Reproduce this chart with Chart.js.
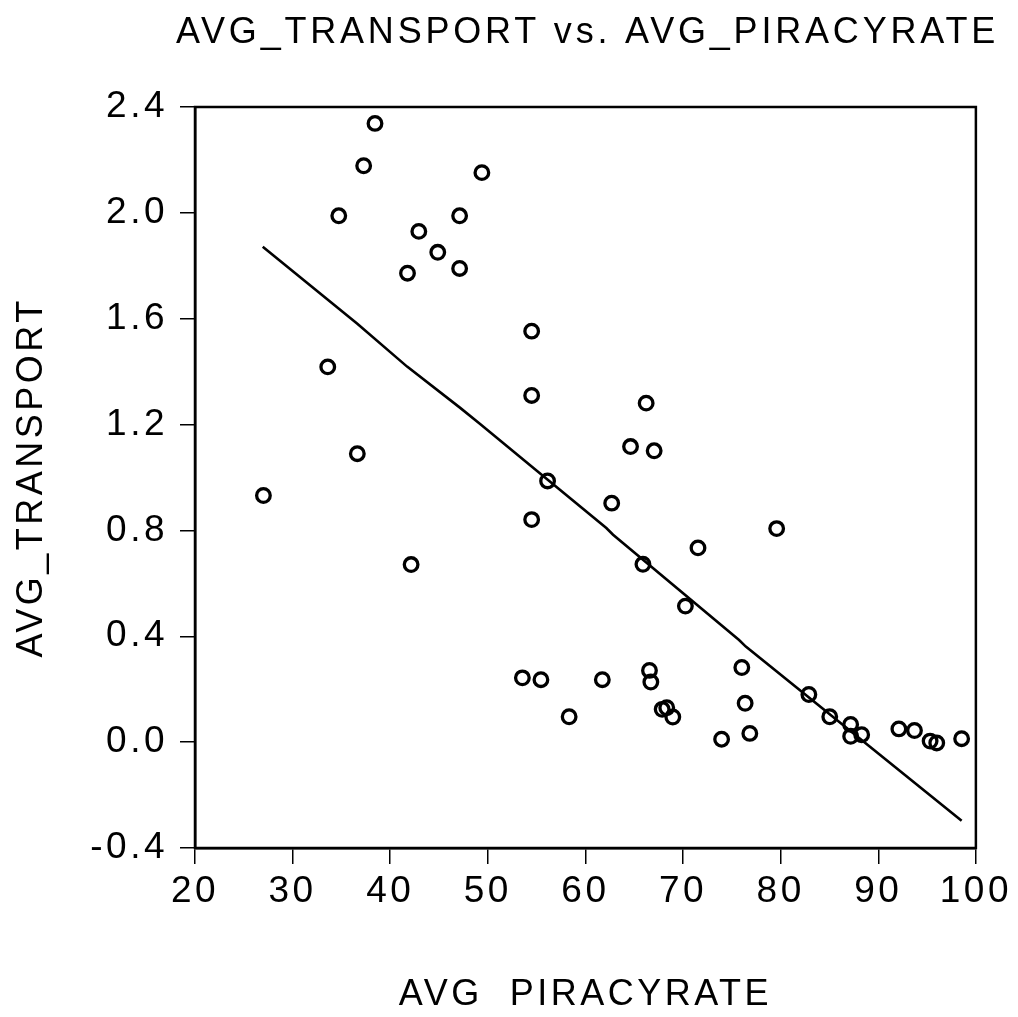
<!DOCTYPE html>
<html>
<head>
<meta charset="utf-8">
<script src="https://cdn.jsdelivr.net/npm/chart.js@4/dist/chart.umd.min.js"></script>
<style>
html,body{margin:0;padding:0;background:#fff;}
#wrap{width:1018px;height:1017px;position:relative;}
canvas{display:block;}
</style>
</head>
<body>
<div id="wrap"><canvas id="c" width="1018" height="1017"></canvas></div>
<script>
// ---- data ----
const piracyRate = [
  38.44, 37.28, 49.39, 34.73, 47.11, 42.93, 44.87, 47.11, 41.77, 54.49,
  33.60, 54.49, 36.63, 27.01, 42.14,
  66.22, 64.62, 67.04, 56.12, 62.69, 54.49, 79.59, 71.53, 65.89, 70.24,
  76.02, 66.56, 66.70, 53.54, 55.44, 61.73, 82.89, 76.36, 58.33, 67.86,
  68.33, 68.95, 85.03, 87.17, 87.17, 88.30, 73.95, 76.84, 92.11, 93.71,
  95.31, 95.99, 98.54
];
const transport = [
  2.338, 2.178, 2.152, 1.989, 1.989, 1.930, 1.851, 1.790, 1.772, 1.553,
  1.418, 1.310, 1.090, 0.932, 0.671,
  1.281, 1.117, 1.101, 0.987, 0.903, 0.841, 0.807, 0.734, 0.672, 0.514,
  0.282, 0.271, 0.227, 0.243, 0.236, 0.236, 0.180, 0.147, 0.096, 0.124,
  0.130, 0.095, 0.096, 0.067, 0.022, 0.028, 0.011, 0.033, 0.050, 0.044,
  0.004, -0.003, 0.013
];
const fitX = [26.94, 36.63, 41.73, 47.17, 49.21, 54.83, 62.14, 62.83, 75.74, 76.43, 98.54];
const fitY = [1.872, 1.581, 1.419, 1.263, 1.202, 1.031, 0.809, 0.784, 0.386, 0.361, -0.297];
const xTicks = [20, 30, 40, 50, 60, 70, 80, 90, 100];
const yTicks = [-0.4, 0.0, 0.4, 0.8, 1.2, 1.6, 2.0, 2.4];
const chartTitle = 'AVG_TRANSPORT vs. AVG_PIRACYRATE';
const xTitle = 'AVG  PIRACYRATE';
const yTitle = 'AVG_TRANSPORT';

const scatterPts = piracyRate.map((x, i) => ({x: x, y: transport[i]}));
const fitPts = fitX.map((x, i) => ({x: x, y: fitY[i]}));

const FONT = "Arial, 'Liberation Sans', Helvetica, sans-serif";
const SPACING = '3.5px';
const PLOT = {left: 195, right: 981, top: 107, bottom: 848};
const W = 1018, H = 1017;

const framePlugin = {
  id: 'frame',
  beforeLayout(chart) { chart.ctx.letterSpacing = SPACING; },
  beforeDraw(chart) {
    const ctx = chart.ctx;
    ctx.letterSpacing = SPACING;
    ctx.save();
    ctx.fillStyle = '#fff';
    ctx.fillRect(0, 0, chart.width, chart.height);
    ctx.restore();
  },
  afterDraw(chart) {
    const ctx = chart.ctx;
    const a = chart.chartArea;
    ctx.save();
    ctx.strokeStyle = '#000';
    ctx.lineWidth = 2.5;
    ctx.strokeRect(a.left, a.top, a.right - a.left, a.bottom - a.top);
    // chart title, centred over the plot area
    ctx.letterSpacing = '3.8px';
    ctx.fillStyle = '#000';
    ctx.font = '36px ' + FONT;
    ctx.textAlign = 'center';
    ctx.textBaseline = 'middle';
    ctx.fillText(chartTitle, (a.left + a.right) / 2 + 2, 33);
    ctx.restore();
  }
};

new Chart(document.getElementById('c'), {
  data: {
    datasets: [
      {
        type: 'scatter',
        data: scatterPts,
        showLine: false,
        pointStyle: 'circle',
        pointRadius: 6.8,
        pointHoverRadius: 6.8,
        pointBorderWidth: 3.3,
        pointBorderColor: '#000',
        pointBackgroundColor: 'rgba(0,0,0,0)',
        order: 2
      },
      {
        type: 'line',
        data: fitPts,
        borderColor: '#000',
        borderWidth: 2.6,
        pointRadius: 0,
        tension: 0,
        fill: false,
        order: 1
      }
    ]
  },
  options: {
    responsive: false,
    animation: false,
    devicePixelRatio: 1,
    layout: {padding: {left: 0, top: PLOT.top, right: W - PLOT.right, bottom: 0}},
    plugins: {
      legend: {display: false},
      tooltip: {enabled: false},
      title: {display: false}
    },
    scales: {
      x: {
        type: 'linear',
        position: 'bottom',
        min: 20, max: 100,
        afterBuildTicks(s) { s.ticks = xTicks.map(v => ({value: v})); },
        afterFit(s) { s.height = H - PLOT.bottom; },
        ticks: {
          color: '#000',
          font: {family: FONT, size: 37},
          autoSkip: false,
          maxRotation: 0,
          padding: 6,
          callback: v => String(v)
        },
        grid: {display: true, drawOnChartArea: false, drawTicks: true, tickLength: 16, color: '#000', lineWidth: 1.5},
        border: {display: true, color: '#000', width: 2.5},
        title: {
          display: true,
          text: xTitle,
          color: '#000',
          font: {family: FONT, size: 36, lineHeight: 1.2},
          padding: {top: 0, bottom: 0}
        }
      },
      y: {
        type: 'linear',
        position: 'left',
        min: -0.4, max: 2.4,
        afterBuildTicks(s) { s.ticks = yTicks.map(v => ({value: v})); },
        afterFit(s) { s.width = PLOT.left; },
        ticks: {
          color: '#000',
          font: {family: FONT, size: 37},
          padding: 12,
          callback: v => Number(v).toFixed(1)
        },
        grid: {display: true, drawOnChartArea: false, drawTicks: true, tickLength: 15, color: '#000', lineWidth: 1.5},
        border: {display: true, color: '#000', width: 2.5},
        title: {
          display: true,
          text: yTitle,
          color: '#000',
          font: {family: FONT, size: 36, lineHeight: 1.2},
          padding: {top: 10, bottom: 0}
        }
      }
    }
  },
  plugins: [framePlugin]
});
</script>
</body>
</html>
